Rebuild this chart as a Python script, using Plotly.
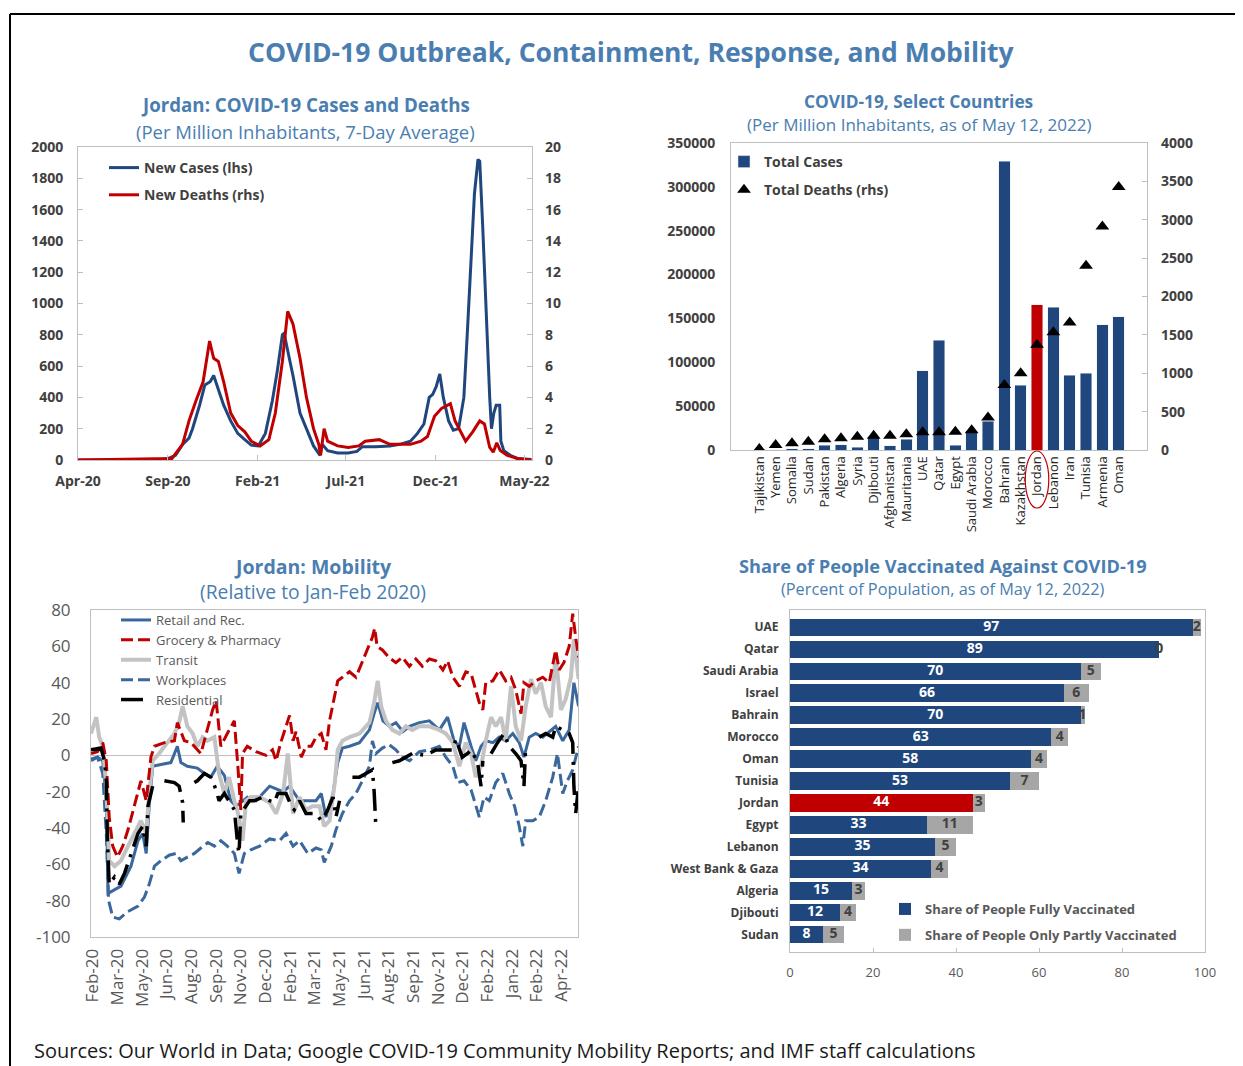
import plotly.graph_objects as go

# ---------------- DATA ----------------
# Panel 1: Jordan cases / deaths (per million, 7-day avg)
case_dates = ["2020-04-01","2020-08-15","2020-09-02","2020-09-14","2020-09-26","2020-10-07","2020-10-13",
              "2020-10-25","2020-11-03","2020-11-12","2020-11-18","2020-11-26","2020-12-05","2020-12-17",
              "2020-12-29","2021-01-10","2021-01-21","2021-02-02","2021-02-14","2021-02-26","2021-03-06",
              "2021-03-15","2021-03-18","2021-03-24","2021-04-02","2021-04-14","2021-04-25","2021-05-07",
              "2021-05-18","2021-05-22","2021-05-31","2021-06-17","2021-07-05","2021-07-20","2021-07-29",
              "2021-08-21","2021-09-14","2021-10-01","2021-10-19","2021-10-31","2021-11-11","2021-11-20",
              "2021-11-26","2021-12-02","2021-12-08","2021-12-14","2021-12-23","2021-12-31","2022-01-09",
              "2022-01-18","2022-01-24","2022-01-30","2022-02-05","2022-02-11","2022-02-14","2022-02-19",
              "2022-02-25","2022-03-03","2022-03-06","2022-03-10","2022-03-14","2022-03-20","2022-03-22",
              "2022-03-27","2022-04-07","2022-04-19","2022-05-13"]
new_cases = [0,2,10,30,100,140,200,350,480,500,540,450,350,250,170,130,95,90,170,380,560,800,810,700,
             540,300,200,90,30,100,60,45,45,55,85,85,90,100,120,170,230,400,420,470,550,400,250,190,200,
             400,820,1300,1700,1920,1910,1500,900,400,200,300,350,350,120,60,30,10,3]
death_dates = ["2020-04-01","2020-09-08","2020-09-26","2020-10-07","2020-10-19","2020-10-31","2020-11-11",
               "2020-11-18","2020-11-26","2020-12-05","2020-12-17","2020-12-29","2021-01-10","2021-01-21",
               "2021-02-05","2021-02-20","2021-03-03","2021-03-15","2021-03-24","2021-04-02","2021-04-14",
               "2021-04-25","2021-05-07","2021-05-16","2021-05-19","2021-05-25","2021-05-31","2021-06-17",
               "2021-07-05","2021-07-23","2021-08-03","2021-08-27","2021-09-14","2021-10-01","2021-10-19",
               "2021-11-06","2021-11-17","2021-11-29","2021-12-11","2021-12-26","2022-01-03","2022-01-21",
               "2022-02-02","2022-02-14","2022-02-22","2022-03-03","2022-03-09","2022-03-15","2022-03-21",
               "2022-04-02","2022-04-19","2022-05-13"]
new_deaths = [0,0.1,1,2.5,3.8,5,7.6,6.5,6.3,5,3,2.2,1.8,1.2,0.9,1.3,3,6.3,9.5,8.7,6.5,4,2,1,0.3,2,1.2,
              0.9,0.8,0.9,1.2,1.3,1.0,1.0,1.0,1.2,1.5,2.8,3.3,3.6,2.5,1.2,1.8,2.5,2.3,0.8,0.5,1.1,0.6,
              0.3,0.1,0]
p1_tick_dates = ["2020-04-01","2020-09-01","2021-02-01","2021-07-01","2021-12-01","2022-05-01"]
p1_tick_labels = ["Apr-20","Sep-20","Feb-21","Jul-21","Dec-21","May-22"]

# Panel 2: select countries
countries = ["Tajikistan","Yemen","Somalia","Sudan","Pakistan","Algeria","Syria","Djibouti","Afghanistan",
             "Mauritania","UAE","Qatar","Egypt","Saudi Arabia","Morocco","Bahrain","Kazakhstan","Jordan",
             "Lebanon","Iran","Tunisia","Armenia","Oman"]
total_cases = [800,400,1500,1500,5700,6100,3400,15200,4600,12200,90500,125200,5300,21700,33000,329000,
               73800,165500,163000,85200,87500,142700,151800]
total_deaths = [13,65,87,109,139,152,174,187,187,204,230,230,239,256,422,848,1000,1370,1535,1660,2400,
                2913,3426]

# Panel 3: mobility (index of observation, % change)
mob_tick_labels = ["Feb-20","Mar-20","May-20","Jun-20","Aug-20","Sep-20","Nov-20","Dec-20","Feb-21",
                   "Mar-21","May-21","Jun-21","Aug-21","Sep-21","Nov-21","Dec-21","Feb-22","Jan-22",
                   "Feb-22","Apr-22"]
mob_y_ticks = [80, 60, 40, 20, 0, -20, -40, -60, -80, -100]
retail_x = [-3,8,17,23,26,37,48,65,77,85,91,96,102,116,133,144,150,161,178,190,201,212,224,235,244,252,
            263,278,301,324,335,352,380,389,397,409,417,425,437,454,471,479,485,494,505,516,528,539,556,
            573,590,604,615,624,632,644,652,661,669,681,692,703,715,726,734,743,754,766,777,788,800,811,
            819,827]
retail_y = [-2,-1,-3,-25,-76,-74,-72,-61,-47,-43,-54,-28,-6,-5,-4,5,-4,-6,-7,-10,-12,-6,-11,-25,-28,-26,
            -23,-25,-17,-20,-17,-25,-25,-21,-34,-21,-4,4,5,7,14,23,29,19,16,18,13,16,18,19,14,21,8,5,18,
            5,-3,5,8,7,10,8,12,7,-1,10,12,10,13,16,8,14,40,27]
grocery_x = [-3,8,17,23,28,34,42,51,60,71,82,91,99,105,122,139,144,156,167,184,193,204,210,218,229,241,
             247,252,255,263,278,295,306,312,320,329,335,341,346,355,363,372,380,389,397,403,412,417,425,
             437,448,456,467,476,480,484,493,504,516,527,539,550,561,573,584,596,604,613,624,635,644,652,
             658,664,669,681,692,703,712,720,729,734,743,754,766,777,788,794,802,811,817,822,827]
grocery_y = [1,2,7,-3,-34,-50,-56,-50,-41,-28,-14,-25,-1,5,7,8,18,8,7,1,12,25,30,5,12,19,-6,-30,1,5,2,0,
             3,-3,7,16,22,8,13,-1,5,5,10,12,3,19,34,41,43,46,43,49,58,65,70,60,58,54,51,54,49,53,49,53,
             52,47,52,43,38,46,45,36,29,25,40,41,47,41,43,36,23,40,38,41,43,40,58,47,51,60,78,65,54]
transit_x = [-3,6,11,17,23,28,37,48,60,71,82,91,96,102,113,127,139,147,153,161,170,178,187,195,207,215,
             224,232,241,249,255,261,269,284,301,312,324,332,336,341,352,363,374,386,394,403,412,417,425,
             437,454,471,479,485,491,499,510,522,533,544,556,573,590,601,613,624,635,644,652,661,669,678,
             686,695,703,712,720,729,737,746,754,763,771,780,788,797,805,814,819,827]
transit_y = [12,21,10,5,-17,-58,-61,-58,-50,-43,-36,-43,-21,-3,1,7,12,18,27,16,12,5,10,8,10,-10,-21,-12,
             -25,-34,-47,-25,-23,-23,-26,-32,-21,1,-14,-32,-23,-30,-28,-28,-39,-36,-15,3,8,10,12,18,29,
             41,27,19,14,12,16,14,16,16,14,12,7,-6,7,1,-12,-6,8,21,16,21,8,38,16,8,27,42,34,40,27,21,56,
             25,31,43,64,42]
work_x = [-3,8,17,23,27,34,45,60,77,88,96,105,116,130,142,150,161,173,184,196,207,218,229,241,249,258,
          269,284,301,318,329,341,352,366,380,389,394,406,414,425,437,448,459,471,476,482,493,504,516,527,
          539,556,573,590,601,613,621,632,644,652,658,666,675,686,698,709,718,726,732,737,749,760,771,783,
          791,800,808,817,822,827]
work_y = [-3,-1,-10,-43,-80,-89,-90,-86,-83,-78,-71,-61,-58,-55,-54,-58,-56,-54,-51,-48,-50,-47,-50,-54,
          -65,-54,-52,-50,-46,-47,-43,-50,-47,-54,-51,-52,-59,-50,-41,-32,-25,-21,-14,-6,8,1,4,6,3,-1,-3,
          2,3,5,-1,-6,-15,-14,-19,-28,-34,-23,-25,-15,-10,-21,-28,-39,-50,-36,-36,-34,-25,-12,1,-21,-14,
          -8,-1,5]
resid_x = [-3,14,20,23,25,28,37,45,54,65,77,85,91,94,102,110,122,139,147,153,154,156,173,178,190,201,
           210,215,224,232,241,247,249,252,267,275,289,301,309,315,329,338,343,352,363,380,389,400,409,
           414,420,430,442,454,465,476,479,482,486,510,522,533,544,567,584,601,613,618,629,638,644,655,
           661,664,670,678,689,700,709,720,729,734,737,748,760,771,783,788,800,811,817,819,822,827]
resid_y = [3,4,-3,-14,-47,-71,-67,-71,-65,-54,-43,-39,-50,-28,-17,None,-14,-15,-17,-26,-37,None,-15,-14,
           -10,-12,-19,-25,-21,-25,-30,-50,-54,-32,-25,-25,-23,-25,-26,-21,-21,-28,-30,-25,-32,-32,-36,
           -30,-23,-34,-25,None,-12,-12,-10,-8,-20,-40,None,-4,-3,-1,1,0,3,3,3,9,-1,1,3,-4,-17,-3,None,1,
           7,12,5,1,-3,-17,5,None,10,12,10,16,14,12,7,-17,-32,-17]

# Panel 4: vaccination
vacc_countries = ["UAE","Qatar","Saudi Arabia","Israel","Bahrain","Morocco","Oman","Tunisia","Jordan",
                  "Egypt","Lebanon","West Bank & Gaza","Algeria","Djibouti","Sudan"]
fully_vacc = [97,89,70,66,70,63,58,53,44,33,35,34,15,12,8]
partly_vacc = [2,0,5,6,1,4,4,7,3,11,5,4,3,4,5]

# ---------------- STYLE ----------------
OFF = 8                      # page body margin of the html page
W, H = 1243 - OFF, 1066 - OFF
FONT = "Open Sans"
BLUE = "#1F477D"
MBLUE = "#3A679C"
RED = "#C00000"
GREY = "#A6A6A6"
LGREY = "#C3C3C3"
TITLE = "#4A7EB1"
FRAME = "#BFBFBF"
TXT = "#404040"

def px(x):
    return (x - OFF) / W

def py(y):
    return 1 - (y - OFF) / H

fig = go.Figure()

# Panel 1
fig.add_trace(go.Scatter(x=case_dates, y=new_cases, mode="lines", name="New Cases (lhs)", legendgroup="c",
                         line=dict(color=BLUE, width=3), xaxis="x", yaxis="y", legend="legend"))
fig.add_trace(go.Scatter(x=death_dates, y=new_deaths, mode="lines", name="New Deaths (rhs)", legendgroup="d",
                         line=dict(color=RED, width=3), xaxis="x", yaxis="y2", legend="legend"))

# Panel 2
bar_colors = [RED if c == "Jordan" else BLUE for c in countries]
fig.add_trace(go.Bar(x=countries, y=total_cases, name="Total Cases", marker=dict(color=bar_colors),
                     legendgroup="tc", width=0.7, xaxis="x3", yaxis="y3", legend="legend2"))
fig.add_trace(go.Scatter(x=countries, y=total_deaths, mode="markers", name="Total Deaths (rhs)",
                         legendgroup="td", marker=dict(symbol="triangle-up", color="black", size=12),
                         xaxis="x3", yaxis="y4", legend="legend2"))

# Panel 3
fig.add_trace(go.Scatter(x=work_x, y=work_y, mode="lines", name="Workplaces", legendrank=4,
                         line=dict(color=MBLUE, width=3, dash="12px,5px"), xaxis="x5", yaxis="y5",
                         legend="legend3"))
fig.add_trace(go.Scatter(x=retail_x, y=retail_y, mode="lines", name="Retail and Rec.", legendrank=1,
                         line=dict(color=MBLUE, width=3), xaxis="x5", yaxis="y5", legend="legend3"))
fig.add_trace(go.Scatter(x=transit_x, y=transit_y, mode="lines", name="Transit", legendrank=3,
                         line=dict(color=LGREY, width=4), xaxis="x5", yaxis="y5", legend="legend3"))
fig.add_trace(go.Scatter(x=grocery_x, y=grocery_y, mode="lines", name="Grocery & Pharmacy", legendrank=2,
                         line=dict(color=RED, width=3, dash="12px,5px"), xaxis="x5", yaxis="y5",
                         legend="legend3"))
fig.add_trace(go.Scatter(x=resid_x, y=resid_y, mode="lines", name="Residential", legendrank=5,
                         connectgaps=False, line=dict(color="black", width=3.5, dash="22px,8px,3px,8px"),
                         xaxis="x5", yaxis="y5", legend="legend3"))

# Panel 4
full_colors = [RED if c == "Jordan" else BLUE for c in vacc_countries]
fig.add_trace(go.Bar(y=vacc_countries, x=fully_vacc, orientation="h", name="Share of People Fully Vaccinated",
                     marker=dict(color=full_colors, line=dict(width=0)), width=0.78, legendgroup="f",
                     xaxis="x6", yaxis="y6", legend="legend4"))
fig.add_trace(go.Bar(y=vacc_countries, x=partly_vacc, orientation="h",
                     name="Share of People Only Partly Vaccinated", legendgroup="p",
                     marker=dict(color=GREY, line=dict(width=0)), width=0.78,
                     xaxis="x6", yaxis="y6", legend="legend4"))
fig.add_trace(go.Scatter(y=vacc_countries, x=[f / 2 for f in fully_vacc],
                         mode="text", text=[str(f) for f in fully_vacc], showlegend=False,
                         textfont=dict(family=FONT, size=14, color="white", weight="bold"),
                         xaxis="x6", yaxis="y6"))
fig.add_trace(go.Scatter(y=vacc_countries, x=[f + p / 2 for f, p in zip(fully_vacc, partly_vacc)],
                         mode="text", text=[str(p) for p in partly_vacc], showlegend=False,
                         textfont=dict(family=FONT, size=14, color=TXT, weight="bold"),
                         xaxis="x6", yaxis="y6", cliponaxis=False))

box = dict(showline=True, mirror=True, linecolor=FRAME, linewidth=1, showgrid=False, zeroline=False,
           automargin=False)
ticks_in = dict(ticks="inside", ticklen=5, tickcolor=FRAME)
bold14 = dict(family=FONT, size=14, color=TXT, weight="bold")

fig.update_layout(
    width=W, height=H, margin=dict(l=0, r=0, t=0, b=0, pad=0, autoexpand=False),
    paper_bgcolor="white", plot_bgcolor="white",
    font=dict(family=FONT, color=TXT),
    barmode="stack", showlegend=True,
    xaxis=dict(domain=[px(78), px(532)], anchor="y", type="date",
               range=["2020-04-01", "2022-05-14"], tickvals=p1_tick_dates, ticktext=p1_tick_labels,
               tickfont=bold14, ticklabelstandoff=8, **box, **ticks_in),
    yaxis=dict(domain=[py(460), py(147)], anchor="x", range=[0, 2000], dtick=200,
               tickfont=bold14, ticklabelstandoff=11, **box, **ticks_in),
    yaxis2=dict(overlaying="y", anchor="x", side="right", range=[0, 20], dtick=2, automargin=False,
                tickfont=bold14, showgrid=False, zeroline=False, ticklabelstandoff=12, **ticks_in),
    xaxis3=dict(domain=[px(731), px(1147)], anchor="y3", type="category", tickmode="linear", dtick=1,
                tickangle=-90, tickfont=dict(family=FONT, size=13, color="#262626"), **box),
    yaxis3=dict(domain=[py(450), py(143)], anchor="x3", range=[0, 350000], dtick=50000, tickformat="d",
                tickfont=bold14, ticklabelstandoff=12, **box),
    yaxis4=dict(overlaying="y3", anchor="x3", side="right", range=[0, 4000], dtick=500, automargin=False,
                tickfont=bold14, showgrid=False, zeroline=False, ticklabelstandoff=13, **ticks_in),
    xaxis5=dict(domain=[px(91), px(578)], anchor="y5", range=[-3, 826],
                tickvals=[i * 42 for i in range(len(mob_tick_labels))], ticktext=mob_tick_labels,
                tickangle=-90, tickfont=dict(family=FONT, size=17, color="#595959"), automargin=False,
                showline=True, mirror=True, linecolor=FRAME, showgrid=False, zeroline=False,
                ticklabelstandoff=4),
    yaxis5=dict(domain=[py(937), py(610)], anchor="x5", range=[-100, 80],
                tickvals=mob_y_ticks, ticktext=[str(v) for v in mob_y_ticks], automargin=False,
                tickfont=dict(family=FONT, size=17, color="#595959"), showline=True, mirror=True,
                linecolor=FRAME, showgrid=False, zeroline=True, zerolinecolor=FRAME, zerolinewidth=1,
                ticklabelstandoff=16),
    xaxis6=dict(domain=[px(790), px(1205)], anchor="y6", range=[0, 100], dtick=20,
                tickfont=dict(family=FONT, size=13, color="#595959"), ticklabelstandoff=8,
                ticks="inside", ticklen=4, tickcolor=FRAME, **box),
    yaxis6=dict(domain=[py(952), py(610)], anchor="x6", autorange="reversed", type="category",
                tickfont=dict(family=FONT, size=12, color=TXT, weight="bold"), ticklabelstandoff=8, **box),
    legend=dict(x=px(104), y=py(152), xanchor="left", yanchor="top", bgcolor="rgba(0,0,0,0)",
                font=bold14, itemwidth=30, tracegroupgap=6, traceorder="grouped"),
    legend2=dict(x=px(724), y=py(146), xanchor="left", yanchor="top", bgcolor="rgba(0,0,0,0)",
                 font=bold14, itemwidth=30, tracegroupgap=7, traceorder="grouped"),
    legend3=dict(x=px(116), y=py(605), xanchor="left", yanchor="top", bgcolor="rgba(0,0,0,0)",
                 font=dict(family=FONT, size=13, color="#595959"), itemwidth=30, tracegroupgap=0),
    legend4=dict(x=px(885), y=py(894), xanchor="left", yanchor="top", bgcolor="rgba(0,0,0,0)",
                 font=dict(family=FONT, size=13, color="#595959", weight="bold"), itemwidth=30,
                 tracegroupgap=6, traceorder="grouped"),
)

def ann(text, x, y, size, bold=False, color=TITLE, xanchor="center"):
    fig.add_annotation(text=f"<b>{text}</b>" if bold else text, x=px(x), y=py(y), xref="paper",
                       yref="paper", showarrow=False, xanchor=xanchor, yanchor="middle",
                       font=dict(family=FONT, size=size, color=color))

ann("COVID-19 Outbreak, Containment, Response, and Mobility", 631, 52, 26.5, bold=True)
ann("Jordan: COVID-19 Cases and Deaths", 305, 105, 18.7, bold=True)
ann("(Per Million Inhabitants, 7-Day Average)", 305, 131, 18.5)
ann("COVID-19, Select Countries", 919, 101, 17.3, bold=True)
ann("(Per Million Inhabitants, as of May 12, 2022)", 919, 124, 17)
ann("Jordan: Mobility", 313, 566, 19.5, bold=True)
ann("(Relative to Jan-Feb 2020)", 313, 591, 19.3)
ann("Share of People Vaccinated Against COVID-19", 943, 566, 18.2, bold=True)
ann("(Percent of Population, as of May 12, 2022)", 943, 589, 16.3)
ann("Sources: Our World in Data; Google COVID-19 Community Mobility Reports; and IMF staff calculations",
    32, 1050, 20, color="#1a1a1a", xanchor="left")

# outer frame
fig.add_shape(type="line", xref="paper", yref="paper", x0=px(10), x1=1, y0=py(14), y1=py(14),
              line=dict(color="black", width=2))
fig.add_shape(type="line", xref="paper", yref="paper", x0=px(10), x1=px(10), y0=py(14), y1=0,
              line=dict(color="black", width=2))
# circle around Jordan label
j = countries.index("Jordan")
fig.add_shape(type="circle", xref="x3", yref="paper", x0=j - 0.72, x1=j + 0.72, y0=py(508), y1=py(451),
              line=dict(color=RED, width=1.2))

fig.write_html("out.html")
